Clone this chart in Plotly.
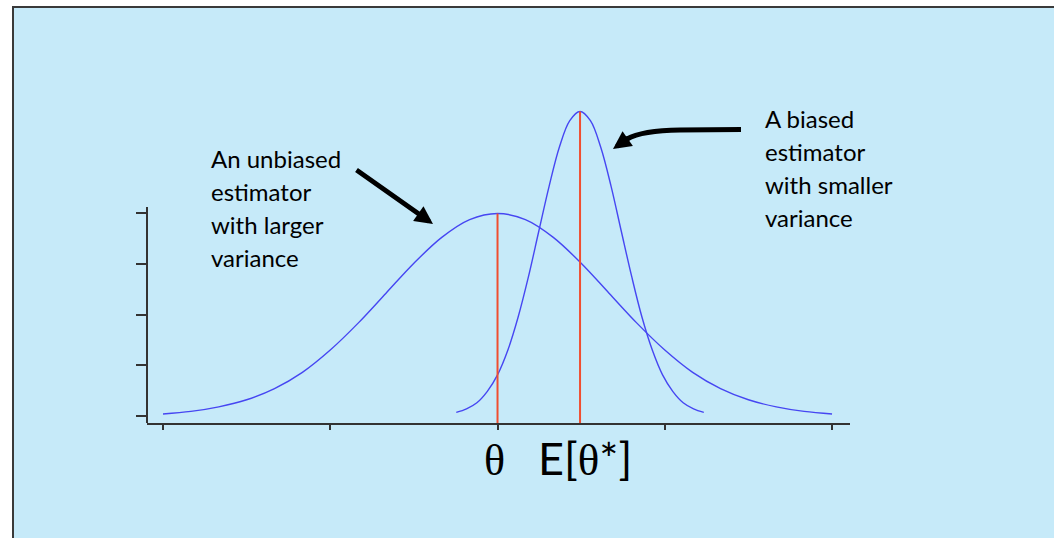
import plotly.graph_objects as go

# curves (x in sigma units of the unbiased estimator)
unbiased_x = [-3.0, -2.75, -2.5, -2.25, -2.0, -1.75, -1.5, -1.25, -1.0, -0.75, -0.5, -0.25,
              0.0, 0.25, 0.5, 0.75, 1.0, 1.25, 1.5, 1.75, 2.0, 2.25, 2.5, 2.75, 3.0]
unbiased_y = [0.004, 0.009, 0.018, 0.032, 0.054, 0.086, 0.130, 0.183, 0.242, 0.301, 0.352, 0.387,
              0.399, 0.387, 0.352, 0.301, 0.242, 0.183, 0.130, 0.086, 0.054, 0.032, 0.018, 0.009, 0.004]

biased_x = [-0.37, -0.278, -0.185, -0.093, 0.0, 0.093, 0.185, 0.278, 0.37, 0.463, 0.555, 0.648,
            0.74, 0.833, 0.925, 1.018, 1.11, 1.203, 1.295, 1.388, 1.48, 1.573, 1.665, 1.758, 1.85]
biased_y = [0.007, 0.014, 0.026, 0.048, 0.081, 0.130, 0.195, 0.275, 0.364, 0.453, 0.530, 0.582,
            0.600, 0.582, 0.530, 0.453, 0.364, 0.275, 0.195, 0.130, 0.081, 0.048, 0.026, 0.014, 0.007]

# expected values and peak heights
means = [0.0, 0.74]
peaks = [0.399, 0.600]

x_ticks = [-3, -1.5, 0, 1.5, 3]
y_ticks = [0, 0.1, 0.2, 0.3, 0.4]

left_text = ["An unbiased", "estimator", "with larger", "variance"]
right_text = ["A biased", "estimator", "with smaller", "variance"]

W, H = 1054, 538
L, R, T, B = 147, 850, 100, 423   # plot area in page pixels
Y_MIN, Y_MAX = -0.0138, 0.6227
Y_AXIS_TOP = 0.4118
BG = "#c6eaf9"
BLUE = "#4646f2"
RED = "#f04e30"
SANS = "Lato"
SERIF = "Liberation Serif"


def px(xp):
    return (xp - L) / (R - L)


def py(yp):
    return (B - yp) / (B - T)


fig = go.Figure()

fig.add_trace(go.Scatter(x=unbiased_x, y=unbiased_y, mode="lines", line_shape="spline",
                         line=dict(color=BLUE, width=1.4)))
fig.add_trace(go.Scatter(x=biased_x, y=biased_y, mode="lines", line_shape="spline",
                         line=dict(color=BLUE, width=1.4)))
for m, p in zip(means, peaks):
    fig.add_trace(go.Scatter(x=[m, m], y=[Y_MIN, p], mode="lines",
                             line=dict(color=RED, width=2)))

# slide background with its frame
fig.add_shape(type="rect", xref="paper", yref="paper", layer="below",
              x0=px(13), y0=py(7), x1=px(1090), y1=py(570),
              fillcolor=BG, line=dict(color="#3a3a3a", width=2))

# short y axis line (axis only drawn up to the 0.4 tick)
fig.add_shape(type="line", xref="paper", yref="y", x0=0, x1=0, y0=Y_MIN, y1=Y_AXIS_TOP,
              line=dict(color="#333", width=2))

# curved arrow shaft
fig.add_shape(type="path", xref="paper", yref="paper",
              path=(f"M {px(741)},{py(129.5)} L {px(680)},{py(130)} "
                    f"Q {px(642)},{py(130.5)} {px(627)},{py(139)}"),
              line=dict(color="black", width=5))

annotations = []
fs = 24
for i, t in enumerate(left_text):
    annotations.append(dict(x=px(209), y=py(168.3 + 32.8 * i + 0.21 * fs + 2),
                            text=t, xanchor="left", yanchor="bottom"))
for i, t in enumerate(right_text):
    annotations.append(dict(x=px(763), y=py(128.3 + 32.8 * i + 0.21 * fs + 2),
                            text=t, xanchor="left", yanchor="bottom"))
for a in annotations:
    a.update(xref="paper", yref="paper", showarrow=False,
             font=dict(family=SANS, size=fs, color="black"))

# arrows
annotations.append(dict(xref="paper", yref="paper", x=px(433), y=py(224), text="",
                        showarrow=True, ax=-78, ay=-55, arrowhead=2, arrowsize=0.75,
                        arrowwidth=4.8, arrowcolor="black"))
annotations.append(dict(xref="paper", yref="paper", x=px(613), y=py(149), text="",
                        showarrow=True, ax=17, ay=-12, arrowhead=2, arrowsize=0.75,
                        arrowwidth=4.8, arrowcolor="black"))

# parameter labels under the axis
annotations.append(dict(x=means[0], xref="x", xshift=-3, y=py(477 + 10), yref="paper",
                        text="θ", showarrow=False, yanchor="bottom",
                        font=dict(family=SERIF, size=44, color="black")))
annotations.append(dict(x=means[1], xref="x", xshift=5, y=py(477 + 10), yref="paper",
                        text=f"E[<span style='font-family:{SERIF}'>θ</span>*]",
                        showarrow=False, yanchor="bottom",
                        font=dict(family=SANS, size=45, color="black")))

fig.update_layout(
    width=W, height=H,
    margin=dict(l=L, r=W - R, t=T, b=H - B, pad=0),
    paper_bgcolor="white", plot_bgcolor="rgba(0,0,0,0)",
    showlegend=False,
    annotations=annotations,
)
fig.update_xaxes(range=[-3.1435, 3.161], tickvals=x_ticks, showticklabels=False,
                 ticks="outside", ticklen=5, tickwidth=1.5, tickcolor="#333",
                 showline=True, linecolor="#333", linewidth=2,
                 showgrid=False, zeroline=False)
fig.update_yaxes(range=[Y_MIN, Y_MAX], tickvals=y_ticks, showticklabels=False,
                 ticks="outside", ticklen=10, tickwidth=1.5, tickcolor="#333",
                 showline=False, showgrid=False, zeroline=False)

# drop the page's default body margin so the figure sits at the window corner
fig.write_html("out.html", config={"displayModeBar": False},
               post_script="document.body.style.margin = '0';")
